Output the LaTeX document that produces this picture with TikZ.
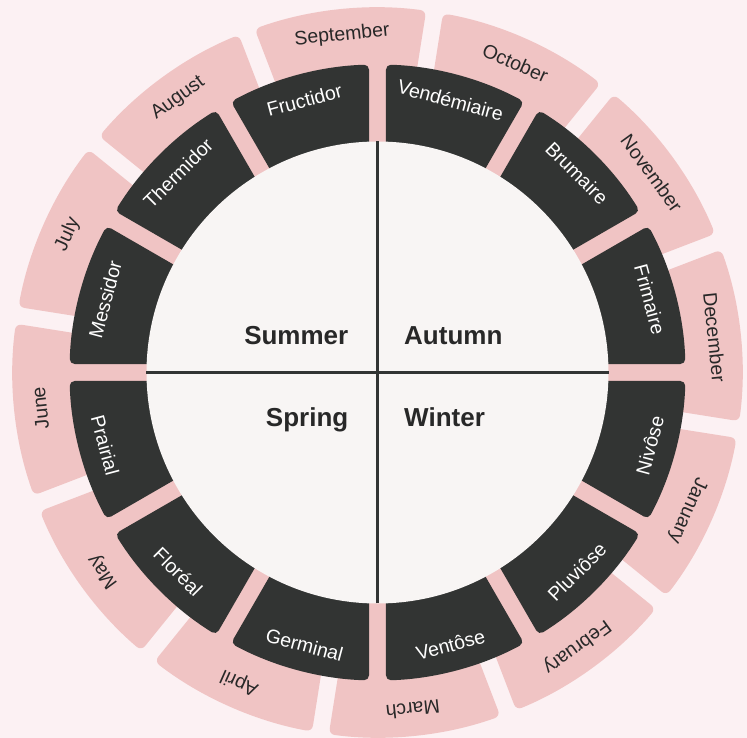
\documentclass[tikz,border=0pt]{standalone}
\usepackage{fontspec}
\setmainfont{Liberation Sans}

\definecolor{bgpink}{RGB}{252,241,243}
\definecolor{monthpink}{RGB}{240,196,196}
\definecolor{darkring}{RGB}{50,52,51}
\definecolor{innerfill}{RGB}{248,245,244}
\definecolor{labelink}{RGB}{40,40,40}

% half width of the gaps between the parts
\newcommand{\ringgap}{8.5}
% #1 style, #2 start angle, #3 end angle, #4 inner radius, #5 outer radius
\newcommand{\ringpart}[5]{%
	\path[#1] ({#2-asin(\ringgap/#4)}:#4) -- ({#2-asin(\ringgap/#5)}:#5)
		arc[start angle={#2-asin(\ringgap/#5)}, end angle={#3+asin(\ringgap/#5)}, radius=#5]
		-- ({#3+asin(\ringgap/#4)}:#4)
		arc[start angle={#3+asin(\ringgap/#4)}, end angle={#2-asin(\ringgap/#4)}, radius=#4] -- cycle;}

\tikzset{
	monthpart/.style={fill=monthpink,rounded corners=6pt},
	frenchpart/.style={fill=darkring,rounded corners=5pt},
	monthlabel/.style={text=labelink,font=\fontsize{19.5}{23}\selectfont,inner sep=0pt},
	frenchlabel/.style={text=white,font=\fontsize{19.5}{23}\selectfont,inner sep=0pt},
	seasonlabel/.style={text=labelink,font=\bfseries\fontsize{26}{30}\selectfont,inner sep=0pt},
	crossline/.style={draw=darkring,line width=3pt}
}

\begin{document}
\begin{tikzpicture}[x=1pt,y=1pt]
	\fill[bgpink] (-377.5,-365.5) rectangle (369.5,372.5);
	\useasboundingbox (-377.5,-365.5) rectangle (369.5,372.5);
	% outer ring: months
	\ringpart{monthpart}{111}{81}{220}{365}
	\ringpart{monthpart}{81}{51}{220}{365}
	\ringpart{monthpart}{51}{21}{220}{365}
	\ringpart{monthpart}{21}{-9}{220}{365}
	\ringpart{monthpart}{-9}{-39}{220}{365}
	\ringpart{monthpart}{-39}{-69}{220}{365}
	\ringpart{monthpart}{-69}{-99}{220}{365}
	\ringpart{monthpart}{-99}{-129}{220}{365}
	\ringpart{monthpart}{-129}{-159}{220}{365}
	\ringpart{monthpart}{-159}{-189}{220}{365}
	\ringpart{monthpart}{171}{141}{220}{365}
	\ringpart{monthpart}{141}{111}{220}{365}
	% inner ring: french months
	\ringpart{frenchpart}{90}{60}{220}{308}
	\ringpart{frenchpart}{60}{30}{220}{308}
	\ringpart{frenchpart}{30}{0}{220}{308}
	\ringpart{frenchpart}{0}{-30}{220}{308}
	\ringpart{frenchpart}{-30}{-60}{220}{308}
	\ringpart{frenchpart}{-60}{-90}{220}{308}
	\ringpart{frenchpart}{-90}{-120}{220}{308}
	\ringpart{frenchpart}{-120}{-150}{220}{308}
	\ringpart{frenchpart}{-150}{-180}{220}{308}
	\ringpart{frenchpart}{180}{150}{220}{308}
	\ringpart{frenchpart}{150}{120}{220}{308}
	\ringpart{frenchpart}{120}{90}{220}{308}
	% centre
	\fill[innerfill] (0,0) circle[radius=231];
	\draw[crossline] (-231,0) -- (231,0);
	\draw[crossline] (0,-231) -- (0,231);
	% month labels
	\node[monthlabel,rotate=6] (sep) at (96:339) {September};
	\node[monthlabel,rotate=-24] (oct) at (66:339) {October};
	\node[monthlabel,rotate=-54] (nov) at (36:339) {November};
	\node[monthlabel,rotate=-84] (dec) at (6:339) {December};
	\node[monthlabel,rotate=-114] (jan) at (-24:339) {January};
	\node[monthlabel,rotate=-144] (feb) at (-54:339) {February};
	\node[monthlabel,rotate=-174] (mar) at (-84:339) {March};
	\node[monthlabel,rotate=-204] (apr) at (-114:339) {April};
	\node[monthlabel,rotate=-234] (may) at (-144:339) {May};
	\node[monthlabel,rotate=-264] (jun) at (-174:339) {June};
	\node[monthlabel,rotate=66] (jul) at (156:339) {July};
	\node[monthlabel,rotate=36] (aug) at (126:339) {August};
	% french month labels
	\node[frenchlabel,rotate=-15] (vend) at (75:282) {Vendémiaire};
	\node[frenchlabel,rotate=-45] (brum) at (45:282) {Brumaire};
	\node[frenchlabel,rotate=-75] (frim) at (15:282) {Frimaire};
	\node[frenchlabel,rotate=75] (niv) at (-15:282) {Nivôse};
	\node[frenchlabel,rotate=45] (pluv) at (-45:282) {Pluviôse};
	\node[frenchlabel,rotate=15] (vent) at (-75:282) {Ventôse};
	\node[frenchlabel,rotate=-15] (germ) at (-105:282) {Germinal};
	\node[frenchlabel,rotate=-45] (flor) at (-135:282) {Floréal};
	\node[frenchlabel,rotate=-75] (prai) at (-165:282) {Prairial};
	\node[frenchlabel,rotate=75] (mess) at (165:282) {Messidor};
	\node[frenchlabel,rotate=45] (therm) at (135:282) {Thermidor};
	\node[frenchlabel,rotate=15] (fruc) at (105:282) {Fructidor};
	% seasons
	\node[seasonlabel,anchor=base east] (summer) at (-29,27.5) {Summer};
	\node[seasonlabel,anchor=base west] (autumn) at (26.5,27.5) {Autumn};
	\node[seasonlabel,anchor=base east] (spring) at (-29,-54.5) {Spring};
	\node[seasonlabel,anchor=base west] (winter) at (26.5,-54.5) {Winter};
\end{tikzpicture}
\end{document}
